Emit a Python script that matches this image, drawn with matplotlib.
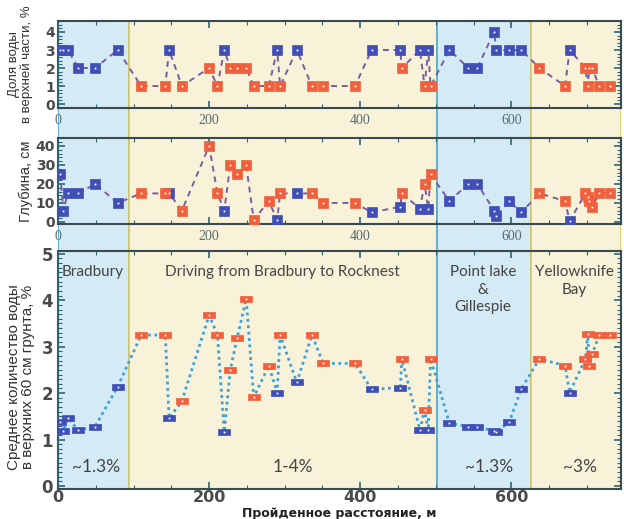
import numpy as np
import matplotlib.pyplot as plt
from matplotlib.patches import Rectangle
from matplotlib.ticker import MultipleLocator

# Station data: distance (m), share of water in upper part (%),
# depth (cm), mean water content in upper 60 cm (%), and marker kind (b = blue, o = orange)
dist = [3, 7, 13, 27, 49, 79, 110, 142, 147, 164, 200, 211, 220, 228, 237, 249, 259,
        279, 290, 294, 316, 336, 351, 393, 415, 453, 455, 479, 485, 490, 493, 518,
        543, 555, 577, 580, 597, 613, 637, 671, 677, 698, 701, 703, 707, 716, 730]
upper_frac = [3, 3, 3, 2, 2, 3, 1, 1, 3, 1, 2, 1, 3, 2, 2, 2, 1,
              1, 3, 1, 3, 1, 1, 1, 3, 3, 2, 3, 1, 3, 1, 3,
              2, 2, 4, 3, 3, 3, 2, 1, 3, 2, 1, 2, 2, 1, 1]
depth = [25, 6, 15, 15, 20, 10, 15, 15, 15, 6, 40, 15, 6, 30, 25, 30, 1,
         11, 1, 15, 15, 15, 10, 10, 5, 8, 15, 7, 20, 7, 25, 11,
         20, 20, 6, 3, 11, 5, 15, 11, 0.5, 15, 13, 11, 8, 15, 15]
avg_water = [1.38, 1.18, 1.46, 1.20, 1.28, 2.14, 3.25, 3.25, 1.46, 1.83, 3.68, 3.25, 1.17,
             2.50, 3.18, 4.03, 1.91, 2.59, 2.01, 3.25, 2.23, 3.25, 2.64, 2.64, 2.08, 2.12,
             2.74, 1.20, 1.64, 1.20, 2.74, 1.35, 1.28, 1.28, 1.18, 1.17, 1.37, 2.09, 2.74,
             2.59, 2.01, 2.74, 3.27, 2.59, 2.84, 3.25, 3.25]
kind = ['b', 'b', 'b', 'b', 'b', 'b', 'o', 'o', 'b', 'o', 'o', 'o', 'b', 'o', 'o', 'o', 'o',
        'o', 'b', 'o', 'b', 'o', 'o', 'o', 'b', 'b', 'o', 'b', 'o', 'b', 'o', 'b',
        'b', 'b', 'b', 'b', 'b', 'b', 'o', 'o', 'b', 'o', 'o', 'o', 'o', 'o', 'o']

region_edges = [0, 94, 502, 626, 745]
region_kind = ['blue', 'yellow', 'blue', 'yellow']
region_names = ['Bradbury', 'Driving from Bradbury to Rocknest',
                'Point lake\n&\nGillespie', 'Yellowknife\nBay']
region_name_x = [46, 297, 562, 683]
region_pct = ['~1.3%', '1-4%', '~1.3%', '~3%']
region_pct_x = [51, 311, 570, 691]

BLUE = '#3f4fb5'
ORANGE = '#f0603c'
FRAME = '#3b4a50'
fill = {'blue': '#d4ebf5', 'yellow': '#f8f2d8'}
edge = {'blue': '#4aa8d8', 'yellow': '#e0c860'}

dist = np.array(dist)
kind = np.array(kind)

fig = plt.figure(figsize=(6.24, 5.19), dpi=100)
L, W = 58 / 624, 563 / 624


def box(top_px, bot_px):
    return [L, (519 - bot_px) / 519, W, (bot_px - top_px) / 519]


# shaded regions spanning all three panels
bg = fig.add_axes(box(21, 489))
bg.set_xlim(0, 745)
bg.set_ylim(0, 1)
bg.axis('off')
for i, k in enumerate(region_kind):
    bg.add_patch(Rectangle((region_edges[i], 0), region_edges[i + 1] - region_edges[i], 1,
                           facecolor=fill[k], edgecolor=edge[k], lw=1.2))

ax1 = fig.add_axes(box(21, 108))
ax2 = fig.add_axes(box(138, 224))
ax3 = fig.add_axes(box(251, 489))

rect_marker = [(-1.6, -1), (1.6, -1), (1.6, 1), (-1.6, 1), (-1.6, -1)]

for ax, vals, ls, lc, lw, mk, ms in [
        (ax1, upper_frac, (0, (3, 2.5)), '#7a5ca3', 1.4, 's', 6.5),
        (ax2, depth, (0, (3, 2.5)), '#7a5ca3', 1.4, 's', 6.5),
        (ax3, avg_water, (0, (1, 1.3)), '#3ca0dc', 2.0, rect_marker, 8)]:
    vals = np.array(vals)
    ax.set_facecolor('none')
    ax.plot(dist, vals, linestyle=ls, color=lc, lw=lw, zorder=2)
    for k, c in [('b', BLUE), ('o', ORANGE)]:
        m = kind == k
        ax.plot(dist[m], vals[m], linestyle='none', marker=mk, ms=ms, mfc=c,
                mec=c, mew=0.5, zorder=3)
        ax.plot(dist[m], vals[m], linestyle='none', marker='s', ms=1.3, mfc='white',
                mec='white', mew=0, zorder=4)
    ax.set_xlim(0, 745)
    for s in ax.spines.values():
        s.set_color(FRAME)
        s.set_linewidth(1.5)
    ax.spines['left'].set_color('#2e6472')
    ax.xaxis.set_major_locator(MultipleLocator(200))
    ax.xaxis.set_minor_locator(MultipleLocator(50))
    ax.tick_params(which='both', direction='in', top=True, right=True,
                   color='#2e6472')
    ax.tick_params(which='major', length=5, width=1.2)
    ax.tick_params(which='minor', length=3, width=0.8)

ax1.set_ylim(-0.22, 4.61)
ax1.yaxis.set_major_locator(MultipleLocator(1))
ax1.yaxis.set_minor_locator(MultipleLocator(0.2))
ax2.set_ylim(-1.1, 44.2)
ax2.yaxis.set_major_locator(MultipleLocator(10))
ax2.yaxis.set_minor_locator(MultipleLocator(2))
ax3.set_ylim(-0.065, 5.06)
ax3.yaxis.set_major_locator(MultipleLocator(1))
ax3.yaxis.set_minor_locator(MultipleLocator(0.1))

for ax in (ax1, ax2):
    ax.tick_params(axis='x', labelsize=10, labelcolor='#5a6a70', pad=4)
    ax.tick_params(axis='y', labelsize=10, labelcolor='#4a4a4a', pad=2)
    for t in ax.get_yticklabels():
        t.set_fontweight('bold')
for t in ax1.get_xticklabels() + ax2.get_xticklabels():
    t.set_family('Liberation Serif')
ax3.tick_params(axis='y', labelsize=12, labelcolor='#4a4a4a')
ax3.tick_params(axis='x', labelsize=11.5, labelcolor='#4a4a4a', pad=1)
for t in ax3.get_xticklabels() + ax3.get_yticklabels():
    t.set_fontweight('bold')

lab = dict(color='#333333', family='Liberation Sans', linespacing=1.0)
ax1.set_ylabel('Доля воды\nв верхней части, %', fontsize=9.5, **lab)
ax2.set_ylabel('Глубина, см', fontsize=10.5, **lab)
ax3.set_ylabel('Среднее количество воды\nв верхних 60 см грунта, %', fontsize=11, **lab)
ax1.yaxis.set_label_coords(-0.045, 0.5)
ax2.yaxis.set_label_coords(-0.045, 0.5)
ax3.yaxis.set_label_coords(-0.04, 0.47)
ax3.set_xlabel('Пройденное расстояние, м', fontsize=9, fontweight='bold',
               color='#222222')
ax3.xaxis.set_label_coords(0.5, -0.075)

for name, x in zip(region_names, region_name_x):
    ax3.text(x, 4.75, name, ha='center', va='top', fontsize=11, color='#444444',
             family='Lato', linespacing=1.3)
for pct, x in zip(region_pct, region_pct_x):
    ax3.text(x, 0.41, pct, ha='center', va='center', fontsize=12.5, color='#444444',
             family='Lato')

fig.savefig('out.png', dpi=100)
